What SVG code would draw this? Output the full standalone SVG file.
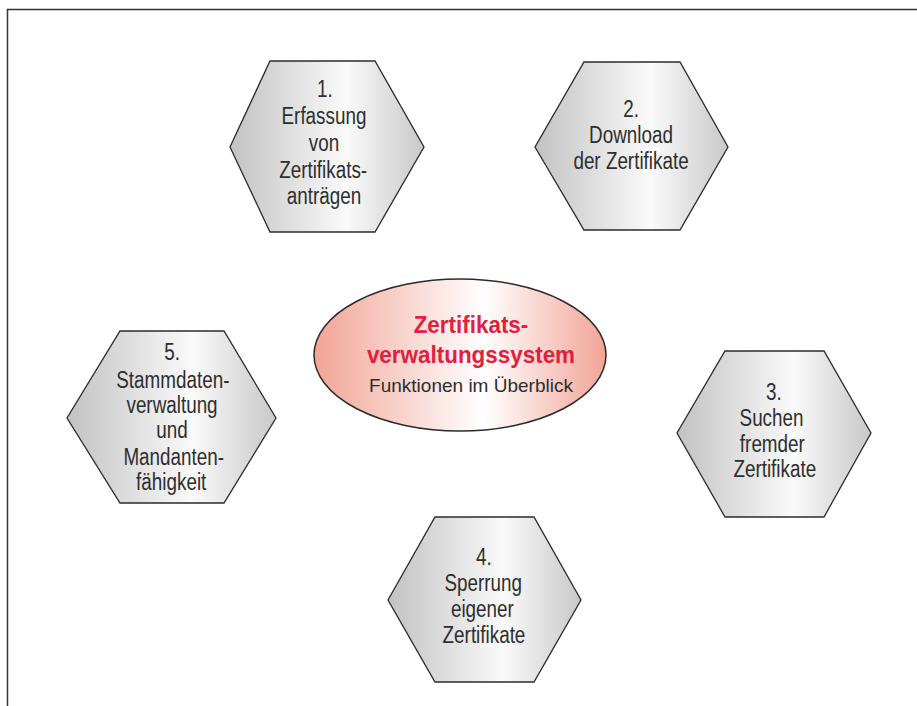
<svg xmlns="http://www.w3.org/2000/svg" width="917" height="706" viewBox="0 0 917 706">
<defs>
<linearGradient id="hexGrad" x1="0" y1="0" x2="1" y2="0">
<stop offset="0" stop-color="#c2c2c2"/>
<stop offset="0.6" stop-color="#fafafa"/>
<stop offset="1" stop-color="#c8c8c8"/>
</linearGradient>
<linearGradient id="ellGrad" x1="0" y1="0" x2="1" y2="0">
<stop offset="0" stop-color="#f2a496"/>
<stop offset="0.58" stop-color="#ffffff"/>
<stop offset="1" stop-color="#f2a496"/>
</linearGradient>
<style>
.hex{fill:url(#hexGrad);stroke:#2b2b2b;stroke-width:1.3;}
.lbl{font-family:"Liberation Sans",Arial,sans-serif;font-size:23px;fill:#2e2e2e;text-anchor:middle;}
.title{font-family:"Liberation Sans",Arial,sans-serif;font-weight:bold;font-size:24px;fill:#e0203d;text-anchor:middle;}
.sub{font-family:"Liberation Sans",Arial,sans-serif;font-size:19px;fill:#2e2e2e;text-anchor:middle;}
.frame{fill:none;stroke:#333;stroke-width:1.5;}
</style>
</defs>
<rect width="917" height="706" fill="#ffffff"/>
<path class="frame" d="M7.5,706 V9.5 H917"/>
<g id="connectors"></g>
<g id="center">
<ellipse cx="460" cy="355" rx="146" ry="76" fill="url(#ellGrad)" stroke="#2b2b2b" stroke-width="1.5"/>
<g transform="matrix(0.935,0,0,1,30.6,0)">
<text class="title" x="471" y="333">Zertifikats-</text>
<text class="title" x="471" y="363">verwaltungssystem</text>
</g>
<text class="sub" x="471" y="392">Funktionen im Überblick</text>
</g>
<g id="node1">
<polygon class="hex" points="270,61 375,61 424,147 375,232 270,232 230,147"/>
<g transform="matrix(0.82,0,0,1,58.3,0)">
<text class="lbl" x="325" y="97">1.</text>
<text class="lbl" x="324" y="124">Erfassung</text>
<text class="lbl" x="324" y="151">von</text>
<text class="lbl" x="323" y="178">Zertifikats-</text>
<text class="lbl" x="324" y="204">anträgen</text>
</g>
</g>
<g id="node2">
<polygon class="hex" points="584,62 680,62 728,147 680,230 584,230 535,147"/>
<g transform="matrix(0.82,0,0,1,113.6,0)">
<text class="lbl" x="631" y="117">2.</text>
<text class="lbl" x="631" y="143">Download</text>
<text class="lbl" x="631" y="169">der Zertifikate</text>
</g>
</g>
<g id="node3">
<polygon class="hex" points="725,351 824,351 871,433 824,517 725,517 677,433"/>
<g transform="matrix(0.82,0,0,1,139.3,0)">
<text class="lbl" x="774" y="400">3.</text>
<text class="lbl" x="771" y="426">Suchen</text>
<text class="lbl" x="772" y="452">fremder</text>
<text class="lbl" x="775" y="477">Zertifikate</text>
</g>
</g>
<g id="node4">
<polygon class="hex" points="435,517 534,517 581,600 534,682 435,682 388,600"/>
<g transform="matrix(0.82,0,0,1,87.1,0)">
<text class="lbl" x="484" y="565">4.</text>
<text class="lbl" x="483" y="591">Sperrung</text>
<text class="lbl" x="482" y="617">eigener</text>
<text class="lbl" x="484" y="643">Zertifikate</text>
</g>
</g>
<g id="node5">
<polygon class="hex" points="120,331 224,331 276,418 224,503 120,503 67,418"/>
<g transform="matrix(0.82,0,0,1,31,0)">
<text class="lbl" x="172" y="360">5.</text>
<text class="lbl" x="173" y="388">Stammdaten-</text>
<text class="lbl" x="172" y="413">verwaltung</text>
<text class="lbl" x="172" y="438">und</text>
<text class="lbl" x="174" y="465">Mandanten-</text>
<text class="lbl" x="171" y="490">fähigkeit</text>
</g>
</g>
</svg>
